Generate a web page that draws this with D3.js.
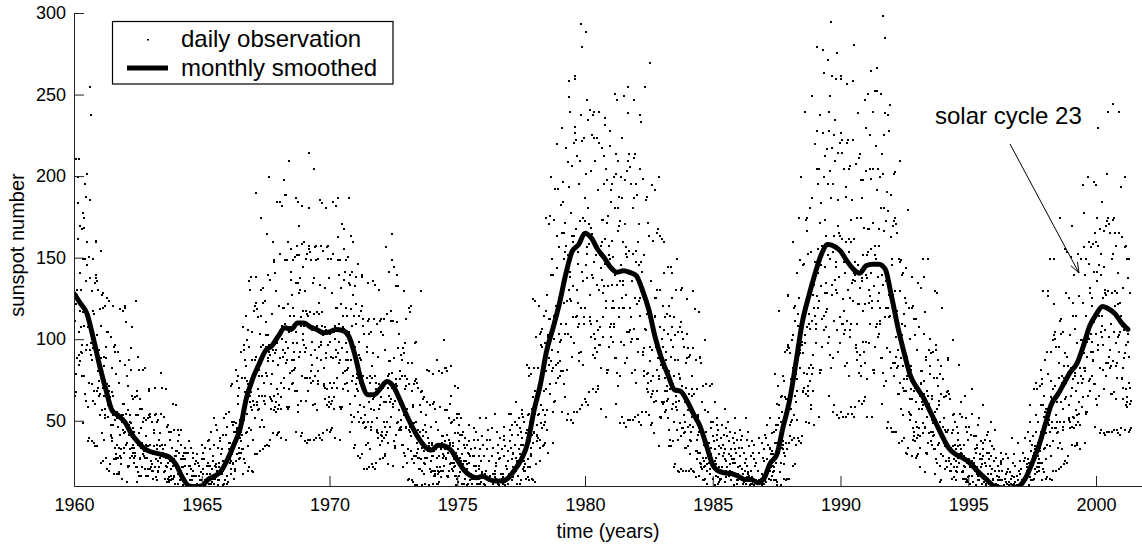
<!DOCTYPE html>
<html>
<head>
<meta charset="utf-8">
<script src="https://cdn.jsdelivr.net/npm/d3@7"></script>
<style>
  html, body { margin: 0; padding: 0; background: #fff; }
  svg { display: block; font-family: "Liberation Sans", Arial, Helvetica, sans-serif; }
</style>
</head>
<body>
<svg id="chart" width="1142" height="545"></svg>
<script>
// Daily sunspot numbers: one row per year, 96 readings per year (about every 3.8 days)
const daily1960s = [
  [66,112,68,122,211,79,131,128,89,126,184,200,162,211,91,85,105,170,118,141,87,131,108,93, 97,168,92,78,150,178,117,49,78,175,169,109,67,196,150,63,136,188,94,202,160,97,146,115, 59,38,108,151,74,40,186,138,94,255,98,91,103,238,73,88,38,130,150,63,118,95,37,116, 69,135,101,61,35,138,160,161,140,103,69,136,35,71,81,131,66,94,75,89,67,54,54,119],
  [25,89,109,155,128,57,43,71,129,26,120,90,84,39,66,54,121,52,58,28,96,89,73,105, 21,126,53,105,60,62,72,20,124,69,65,24,63,102,42,41,48,38,83,40,68,54,66,121, 48,18,96,27,34,97,51,93,28,30,27,79,52,56,18,36,93,47,28,18,34,74,19,29, 119,42,87,52,33,28,24,15,50,54,54,118,61,45,43,61,31,34,120,44,85,121,55,48],
  [111,36,13,37,78,23,72,57,22,42,23,48,88,28,54,50,33,49,82,95,66,108,34,29, 31,64,36,46,25,44,34,28,31,65,29,22,54,124,39,13,22,69,66,36,19,90,54,17, 43,82,27,58,64,28,46,34,17,9,37,58,22,10,82,50,30,52,32,29,34,83,21,28, 8,41,51,17,36,28,7,35,21,52,35,17,8,54,69,70,55,36,21,53,8,22,26,50],
  [20,32,24,30,20,15,15,43,8,35,45,71,54,22,16,27,55,9,50,36,33,14,26,20, 51,19,22,10,39,35,28,43,9,80,25,55,29,30,36,8,71,33,31,10,30,53,19,19, 20,15,36,15,29,23,28,70,22,9,47,13,15,48,25,44,14,16,13,39,26,27,9,17, 44,21,14,9,15,34,10,15,61,23,45,27,17,16,12,7,25,29,29,60,32,23,21,32],
  [10,12,38,18,45,31,21,18,42,14,0,14,45,5,36,27,5,17,5,22,29,11,27,22, 9,14,31,34,23,27,10,7,9,31,12,18,7,18,12,11,8,31,10,7,23,38,14,0, 5,23,21,9,3,34,17,3,14,28,7,31,20,7,17,11,3,0,11,24,5,0,26,17, 9,30,10,12,11,25,5,7,0,17,23,3,14,8,0,14,5,19,14,5,0,27,36,21],
  [31,18,7,27,0,9,12,34,7,14,10,13,7,4,4,23,0,18,23,38,25,7,4,12, 39,0,33,23,18,5,12,8,44,8,13,0,21,26,15,29,0,52,12,36,15,16,23,0, 48,22,24,0,20,45,10,11,14,5,34,9,22,14,25,40,18,0,38,5,10,30,18,33, 9,6,11,42,20,26,0,12,52,24,8,0,14,42,0,10,55,17,47,26,12,13,5,0],
  [29,33,33,56,37,27,25,37,18,21,72,26,50,73,34,30,48,24,8,25,50,15,44,38, 20,39,21,44,82,26,49,46,30,45,75,78,61,66,31,27,34,71,40,51,28,49,38,31, 44,93,42,33,77,108,56,18,33,97,94,51,27,88,77,25,68,115,43,84,100,44,75,55, 35,20,73,106,46,22,136,96,62,131,66,59,68,139,45,57,20,88,105,39,79,63,19,77],
  [60,118,88,52,30,121,139,190,123,90,60,119,30,62,70,114,57,82,66,78,58,47,47,104, 32,96,115,175,131,66,51,78,132,33,123,97,91,47,74,63,124,61,66,35,103,96,80,111, 36,165,78,140,87,89,103,35,200,97,93,39,91,137,65,64,73,58,116,63,96,79,94,160, 87,43,148,57,66,149,92,141,59,62,56,130,94,98,42,70,185,85,58,43,67,121,44,60],
  [185,89,153,105,74,65,58,40,101,108,109,182,120,94,90,120,71,77,198,92,149,189,110,99, 189,86,39,88,149,59,160,122,58,95,59,105,210,70,115,108,80,107,156,142,137,128,81,73, 88,149,98,120,74,115,93,82,88,151,83,69,135,187,105,44,69,158,152,98,60,185,135,56, 129,170,90,152,131,93,138,109,63,41,114,159,78,43,182,145,100,118,104,97,109,160,77,93],
  [38,130,150,63,118,95,37,116,77,153,115,69,39,156,181,215,158,117,77,154,39,81,91,149, 74,106,85,99,75,60,60,135,39,116,138,205,157,78,61,94,158,40,149,117,109,57,89,75, 150,73,81,42,123,116,96,134,40,186,88,158,97,99,117,39,184,109,105,43,103,155,73,72, 83,64,132,71,108,89,106,181,92,45,157,60,70,158,97,150,62,65,59,138,99,104,44,74]
];
const daily1970s = [
  [150,90,61,45,71,129,46,63,185,89,153,105,74,65,58,40,101,108,109,182,120,94,90,120, 71,77,187,92,149,163,110,99,140,86,39,88,149,59,132,122,58,95,59,105,171,70,115,108, 80,107,156,168,137,142,81,73,88,149,98,120,74,115,93,82,88,151,83,69,135,187,105,44, 61,140,134,88,54,164,119,50,109,142,75,160,128,78,115,91,53,34,96,133,66,36,110,122],
  [73,139,77,70,79,147,56,69,29,99,115,50,91,74,28,89,60,118,88,52,30,121,139,140, 113,78,49,109,21,50,59,104,46,71,54,67,47,36,36,93,21,77,96,135,112,50,37,62, 113,22,104,78,74,33,58,47,105,45,50,24,84,77,64,92,22,136,57,113,65,67,78,21, 134,74,70,25,68,110,45,44,52,40,90,43,73,58,71,131,60,27,112,36,42,113,65,105],
  [41,44,38,103,71,74,28,50,113,62,40,29,47,94,30,42,157,62,116,75,50,44,37,24, 71,78,79,142,87,66,62,87,47,53,118,64,112,149,80,71,165,59,23,61,112,38,145,89, 34,63,35,70,133,42,76,73,49,72,111,140,95,133,50,45,57,104,66,81,46,76,61,51, 47,91,45,36,78,88,59,22,36,95,92,54,31,130,78,29,70,98,46,113,72,47,76,58],
  [25,14,54,86,33,15,120,73,45,117,47,44,51,121,32,41,14,69,86,27,60,46,13,59, 29,73,49,25,11,75,98,99,76,50,29,74,11,31,37,71,28,45,33,41,28,21,21,60, 10,44,56,130,68,27,20,34,69,11,64,45,41,18,32,25,65,24,28,12,48,44,35,54, 10,82,28,62,32,33,40,9,81,37,35,11,34,60,21,21,26,19,47,20,37,29,36,79],
  [29,12,61,17,20,62,32,58,18,20,17,50,33,35,12,22,88,28,18,12,20,45,13,19, 81,29,59,35,22,20,16,10,33,37,37,80,41,30,28,41,20,23,100,29,57,83,38,33, 83,27,9,28,57,17,81,42,16,31,17,35,52,20,39,37,24,36,61,84,49,66,25,21, 25,50,29,37,20,35,27,22,25,51,23,17,43,72,31,11,17,55,52,29,15,71,43,13],
  [33,48,17,38,55,19,42,28,7,0,26,52,12,0,30,42,22,44,21,24,26,36,12,15, 0,34,40,5,26,18,0,24,11,36,21,12,0,31,48,25,38,30,10,29,0,14,18,33, 8,18,12,15,9,5,6,29,0,23,29,46,39,7,4,16,34,0,44,23,20,5,12,10, 39,8,12,0,23,21,15,29,0,52,12,33,16,13,26,0,41,18,19,0,17,36,8,10],
  [12,5,29,8,18,11,20,52,15,0,39,5,8,33,15,45,5,6,4,26,14,17,0,9, 39,15,5,0,8,29,0,5,46,12,34,18,8,5,6,0,18,20,16,55,23,15,13,25, 7,8,44,12,31,36,14,11,27,9,0,9,28,4,40,18,4,13,4,15,33,7,18,16, 12,18,39,47,29,41,11,8,13,35,15,23,8,21,15,10,14,32,12,8,26,55,18,0],
  [10,45,38,18,5,55,34,5,27,42,14,48,30,16,31,22,5,0,20,36,10,0,50,28, 22,62,20,25,26,48,12,17,0,42,52,7,33,23,0,30,12,46,36,14,0,44,57,40, 55,36,21,53,8,22,26,50,20,32,24,30,20,15,15,43,8,35,45,85,54,22,16,27, 83,14,78,55,50,22,38,30,79,29,34,15,58,54,42,65,14,125,37,83,43,44,55,13],
  [124,69,65,24,63,102,42,41,48,38,83,40,68,54,66,121,55,26,104,34,39,105,60,97, 49,96,46,107,78,80,35,57,115,69,48,36,54,98,37,50,175,70,118,81,57,128,45,31, 95,102,103,171,113,89,85,113,67,73,176,87,140,200,104,94,150,81,37,83,140,56,174,115, 62,101,63,111,193,74,121,114,85,113,164,220,144,193,86,77,93,157,104,126,78,121,99,87],
  [110,183,100,81,166,230,128,56,81,197,185,123,73,150,166,65,154,172,104,218,140,110,158,124, 82,51,152,209,104,55,259,194,131,249,139,125,142,240,102,124,51,178,207,90,164,133,49,160, 114,221,164,98,56,227,260,262,231,168,114,223,56,115,131,213,108,154,123,147,110,92,87,196, 58,173,210,294,238,120,93,142,280,60,222,175,166,85,136,114,224,110,120,64,187,173,146,202]
];
const daily1980s = [
  [62,289,138,247,153,157,181,60,235,171,163,68,159,241,114,112,128,102,204,110,169,140,165,226, 138,70,238,91,104,240,148,224,95,101,89,210,152,156,68,112,224,134,93,70,106,192,72,97, 240,131,221,152,108,97,83,58,144,158,160,218,174,137,129,174,102,114,196,133,213,232,162,147, 236,120,53,124,205,82,198,172,80,133,82,146,176,96,158,152,108,150,219,228,192,185,110,102],
  [120,196,134,161,99,151,124,108,120,200,110,89,181,251,140,61,89,214,202,134,80,247,181,72, 167,210,114,188,170,120,173,136,78,49,146,200,99,53,224,187,126,160,134,120,136,250,97,120, 49,171,198,86,157,128,47,153,105,204,151,89,51,210,239,255,214,155,105,206,51,106,120,196, 99,142,114,136,101,80,80,181,51,153,187,247,212,107,82,126,214,53,196,155,148,74,122,101],
  [189,93,101,54,160,146,124,171,50,238,115,205,126,130,148,48,234,142,134,56,130,199,93,91, 95,78,152,81,128,107,124,255,106,56,186,70,79,188,116,172,74,80,68,164,120,120,54,87, 270,96,65,48,75,136,49,67,195,94,161,111,78,69,62,43,107,114,115,192,126,100,96,126, 63,69,166,82,131,168,98,89,200,76,35,78,131,53,164,108,52,85,53,93,162,62,101,96],
  [61,83,121,160,106,141,62,56,69,114,77,93,57,88,72,63,69,116,64,52,104,145,81,35, 45,121,115,70,39,145,100,35,90,126,58,141,108,61,96,73,38,22,78,114,50,24,88,103, 62,131,66,59,68,150,45,57,20,88,105,39,79,63,19,77,49,108,76,41,21,111,131,132, 105,72,46,101,20,46,54,96,43,66,50,62,44,34,34,86,20,71,89,125,104,47,35,57],
  [95,20,90,67,61,30,48,39,91,38,44,21,70,66,53,78,20,130,47,95,54,55,67,19, 119,54,52,16,51,88,32,32,39,27,70,31,54,42,53,117,44,17,89,25,31,90,47,86, 22,24,21,62,41,44,14,28,72,36,22,14,26,57,15,23,100,35,73,44,28,24,20,12, 29,33,33,56,37,27,25,37,18,21,72,26,50,46,34,30,73,24,8,25,50,15,41,38],
  [7,22,9,26,62,11,33,28,17,24,52,48,42,39,16,12,19,45,22,30,13,35,20,15, 14,40,15,10,34,48,22,0,10,36,29,18,5,42,31,5,27,58,13,33,46,16,26,20, 5,0,22,41,10,0,50,30,18,38,17,20,24,44,10,14,0,29,33,5,27,19,0,25, 10,40,27,11,0,37,52,33,43,25,9,31,0,14,18,39,12,22,14,18,8,5,6,34],
  [0,23,29,45,39,8,5,15,34,0,41,21,18,5,12,9,31,7,13,0,25,20,15,27, 0,52,12,39,15,16,23,0,44,18,19,0,17,35,8,9,11,5,29,7,20,12,16,38, 12,0,31,4,8,27,11,36,5,4,3,23,13,14,0,6,25,10,4,0,9,20,0,4, 40,9,31,14,7,4,4,0,14,15,13,37,18,12,11,17,7,8,28,12,26,33,14,10],
  [42,14,0,13,40,5,48,27,6,18,5,22,36,10,25,22,15,20,33,52,34,30,14,10, 22,43,25,32,17,30,23,19,22,44,20,14,37,79,27,9,14,48,45,25,13,61,37,11, 48,72,30,60,118,31,52,38,19,10,41,65,25,11,50,56,34,66,36,33,38,78,24,31, 15,75,93,29,65,50,14,64,37,94,64,33,15,96,127,128,97,65,37,95,15,41,48,92],
  [50,76,58,71,51,39,39,100,23,83,103,160,120,54,40,66,121,24,112,84,79,36,62,51, 141,69,76,40,116,109,91,126,38,175,83,149,92,94,110,37,200,103,99,41,97,146,69,68, 92,71,147,80,120,98,118,240,103,50,174,67,79,175,108,167,69,72,66,153,110,116,49,83, 181,107,75,58,85,154,60,79,250,112,187,128,91,83,69,48,120,134,136,220,148,115,107,148],
  [98,110,228,127,205,280,156,141,196,120,53,124,205,82,238,172,80,133,82,146,184,96,158,152, 113,156,227,278,200,264,115,106,129,213,145,174,108,164,135,117,129,217,119,98,196,272,152,66, 102,240,228,150,91,250,204,83,187,295,128,218,262,134,196,154,89,56,164,226,112,60,235,210, 137,260,145,131,148,276,106,129,54,186,215,93,170,139,52,166,114,221,164,98,56,227,260,262]
];
const daily1990s = [
  [223,162,110,215,53,110,125,205,104,148,118,141,106,84,84,188,53,160,194,257,221,112,86,131, 223,55,205,162,154,78,126,106,207,102,110,59,174,160,135,186,55,259,124,223,137,141,162,53, 281,148,140,59,136,208,97,95,110,88,175,93,146,122,142,239,122,63,212,80,91,214,132,198, 84,175,78,187,136,138,61,99,198,118,152,63,93,169,65,86,247,122,204,140,99,230,76,53],
  [138,152,154,251,168,131,123,168,98,110,226,127,205,265,156,141,199,120,53,124,205,82,240,172, 80,133,82,146,253,96,158,152,108,150,219,267,192,253,110,102,124,205,139,168,104,158,129,112, 120,200,110,89,181,251,140,61,89,214,202,134,80,299,181,72,167,226,114,239,285,120,173,136, 75,46,140,191,95,50,238,179,120,228,128,114,130,244,93,115,46,163,189,83,150,122,44,146],
  [86,170,128,78,44,173,202,203,175,130,86,171,44,90,102,166,83,118,94,110,84,67,67,150, 37,109,130,210,148,74,58,89,149,38,140,110,103,54,84,71,141,69,76,40,116,109,91,126, 31,144,69,123,76,78,90,30,180,85,81,34,79,120,56,55,64,51,101,54,84,70,82,139, 64,29,120,39,46,121,69,113,41,44,38,103,71,74,28,50,113,62,40,29,47,94,30,42],
  [135,58,108,70,46,41,34,22,66,73,74,132,81,62,58,81,43,49,150,60,104,139,75,67, 117,46,19,47,90,31,88,69,30,53,31,59,150,37,66,61,43,60,94,101,79,84,44,38, 44,92,51,66,36,64,49,41,44,93,42,33,77,130,56,18,33,97,94,51,27,129,77,25, 58,88,36,72,60,37,63,47,23,13,50,79,30,14,84,67,41,120,43,40,47,76,29,37],
  [10,52,65,21,45,35,9,44,26,66,44,22,10,68,88,89,69,45,26,67,10,28,33,64, 20,32,24,34,20,15,15,43,8,35,45,100,54,22,16,27,55,9,50,36,33,14,26,20, 47,19,22,10,39,35,28,43,9,85,25,55,29,30,36,8,62,33,31,10,30,53,19,19, 20,15,36,15,29,23,28,66,22,9,47,13,15,52,25,44,14,16,13,39,26,27,9,17],
  [47,22,7,0,12,42,0,7,70,17,55,26,13,8,6,0,24,28,25,41,33,20,23,31, 10,11,41,18,36,34,22,17,48,14,0,14,52,5,30,27,5,19,5,22,38,9,27,24, 12,18,33,60,29,37,13,8,10,39,15,25,8,23,15,11,12,42,14,8,31,44,18,0, 7,31,27,12,4,38,23,4,18,29,9,50,35,10,21,14,4,0,15,33,7,0,26,20],
  [9,45,10,12,11,28,5,7,0,17,23,3,14,11,0,16,5,20,14,5,0,26,31,24, 25,14,5,20,0,7,9,27,5,11,7,10,5,3,3,15,0,13,18,30,19,5,3,12, 21,0,28,13,11,3,7,5,19,5,7,0,15,12,10,17,0,40,7,25,9,11,16,0, 30,12,10,0,13,23,5,5,7,3,17,5,11,7,14,37,10,0,20,3,5,26,9,18],
  [4,5,3,21,11,14,0,7,31,13,4,0,7,26,0,4,40,9,28,15,8,4,4,0, 20,22,24,44,27,17,19,25,10,11,38,16,60,50,23,21,32,14,0,14,36,5,41,29, 14,28,15,31,70,18,35,33,21,32,54,74,44,70,22,19,25,50,29,37,20,35,27,22, 34,72,32,25,60,82,44,14,25,76,73,40,21,130,60,19,53,66,33,88,56,34,58,43],
  [27,15,58,93,36,16,130,79,49,127,51,48,55,150,35,44,15,75,93,29,65,50,14,64, 46,100,70,38,20,103,150,122,105,72,46,101,20,46,54,96,43,66,50,62,44,34,34,86, 21,77,96,175,112,50,37,62,113,22,104,78,74,33,58,47,105,45,50,24,84,77,64,92, 26,156,65,129,74,76,90,25,154,84,80,29,78,126,52,51,60,46,103,50,83,66,81,151],
  [71,36,170,47,53,123,76,115,140,52,46,107,78,80,35,57,115,69,48,36,54,98,37,50, 153,74,127,87,62,55,48,33,83,90,91,150,100,78,74,100,59,65,195,76,123,157,92,83, 178,81,37,83,140,56,150,115,55,90,56,99,200,66,108,102,75,101,147,160,129,132,76,69, 93,157,104,126,78,121,99,87,93,159,88,73,142,197,111,47,73,166,160,104,64,195,142,60]
];
const daily2000s = [
  [136,175,94,158,230,97,146,115,66,43,120,168,83,45,140,153,105,185,109,102,115,126,82,97, 43,145,167,70,131,106,42,129,86,170,128,78,44,173,202,240,175,130,86,171,44,90,102,166, 83,118,94,110,84,67,67,150,44,129,153,245,174,87,68,105,175,45,166,130,121,64,98,84, 158,77,86,45,129,122,102,141,43,240,93,166,103,105,123,42,194,115,111,46,109,163,77,76],
  [83,64,132,71,108,89,106,200,92,45,157,60,70,158,97,150,62,65,59,138,99,104,44,74, 150,90,61,45,71,129,46,63]
];
const dailyBlocks = [[1960, daily1960s], [1970, daily1970s], [1980, daily1980s], [1990, daily1990s], [2000, daily2000s]];
const readingsPerYear = 96;

// Monthly smoothed sunspot number, sampled every quarter year from 1960.0
const smoothedStart = 1960;
const smoothedStep = 0.25;
const smoothed = [
  128,122,116,101,  84,69,56,53,  49,42,37,33,  31,30,29,27.5,  23,15,10,9.5,
  10,14,16,19,  26,35,45,64,  76,85,93,96,  102,107,106,110,  110,107.5,106,104,
  104.5,106,105.5,102,  90,74,66,66,  70,74,71,63,  54,46,39,34,  32,35,34.5,32,
  26,20,16.5,15,  16,14,13,13,  15,20,26,36,  56,72,93,107,  122,140,154,158,
  165,162,155,150,  144,141,142,141,  139,130,118,101,  88,78,69,68,  62,54,46.7,35,
  23,19,18,17.5,  16,14,14,12,  14.5,24,29,46,  62,85,110,126,  140,152,158,157,
  154,148,143,140.5,  145,146,146,143,  126,107,91,77,  70,64,56,48,  40,33,29.5,27.5,
  25,21,17,13.5,  10,9,8.5,9,  10,15,24,34,  47,60,66,73,  80,85,95.6,108,
  115,120,118.5,115.5,  110,106
];

const xTicks = [1960, 1965, 1970, 1975, 1980, 1985, 1990, 1995, 2000];
const yTicks = [50, 100, 150, 200, 250, 300];

const svg = d3.select("#chart");
const plotLeft = 74, plotRight = 1142, plotTop = 13, plotBottom = 486;

const x = d3.scaleLinear().domain([1960, 2001.8]).range([plotLeft, plotRight]);
const y = d3.scaleLinear().domain([10, 300]).range([plotBottom, plotTop]);

// Flatten the daily readings into (time, value) pairs
const dailyPoints = [];
dailyBlocks.forEach(([startYear, years]) => {
  years.forEach((row, k) => {
    row.forEach((v, i) => {
      dailyPoints.push({ t: startYear + k + (i + 0.5) / readingsPerYear, v });
    });
  });
});
const smoothPoints = smoothed.map((v, i) => ({ t: smoothedStart + i * smoothedStep, v }));

svg.append("defs").append("clipPath").attr("id", "plotArea")
  .append("rect")
  .attr("x", plotLeft + 0.5).attr("y", plotTop)
  .attr("width", plotRight - plotLeft).attr("height", plotBottom - plotTop + 0.5);

const plot = svg.append("g").attr("clip-path", "url(#plotArea)");

// daily observations as tiny dots
plot.append("g")
  .selectAll("rect")
  .data(dailyPoints)
  .join("rect")
  .attr("x", d => Math.round(x(d.t)))
  .attr("y", d => Math.round(y(d.v)))
  .attr("width", 2)
  .attr("height", 2)
  .attr("fill", "#000");

// monthly smoothed curve
plot.append("path")
  .datum(smoothPoints)
  .attr("fill", "none")
  .attr("stroke", "#000")
  .attr("stroke-width", 5)
  .attr("stroke-linejoin", "round")
  .attr("stroke-linecap", "round")
  .attr("d", d3.line().x(d => x(d.t)).y(d => y(d.v)).curve(d3.curveMonotoneX));

// axes with inward ticks
const xAxis = d3.axisBottom(x).tickValues(xTicks).tickFormat(d3.format("d"))
  .tickSizeInner(-10).tickSizeOuter(0).tickPadding(12);
const yAxis = d3.axisLeft(y).tickValues(yTicks).tickFormat(d3.format("d"))
  .tickSizeInner(-10).tickSizeOuter(0).tickPadding(8);

const gx = svg.append("g").attr("transform", `translate(0,${plotBottom})`).call(xAxis);
const gy = svg.append("g").attr("transform", `translate(${plotLeft},0)`).call(yAxis);
[gx, gy].forEach(g => {
  g.attr("font-family", null).attr("font-size", null);
  g.select(".domain").attr("stroke", "#222").attr("stroke-width", 1);
  g.selectAll(".tick line").attr("stroke", "#222").attr("stroke-width", 1);
  g.selectAll(".tick text").attr("fill", "#000").style("font-size", "18px");
});

// axis titles
svg.append("text")
  .attr("x", (plotLeft + plotRight) / 2).attr("y", 538)
  .attr("text-anchor", "middle")
  .style("font-size", "19.5px")
  .text("time (years)");

svg.append("text")
  .attr("transform", "translate(24,245) rotate(-90)")
  .attr("text-anchor", "middle")
  .style("font-size", "20px")
  .text("sunspot number");

// legend
const legend = svg.append("g");
legend.append("rect")
  .attr("x", 112.5).attr("y", 21.5).attr("width", 280.5).attr("height", 62.5)
  .attr("fill", "#fff").attr("stroke", "#000").attr("stroke-width", 1.2);
legend.append("rect")
  .attr("x", 147).attr("y", 39).attr("width", 2).attr("height", 1.5).attr("fill", "#000");
legend.append("line")
  .attr("x1", 127).attr("x2", 168).attr("y1", 68).attr("y2", 68)
  .attr("stroke", "#000").attr("stroke-width", 5);
legend.append("text").attr("x", 181).attr("y", 47).style("font-size", "24px").text("daily observation");
legend.append("text").attr("x", 181).attr("y", 75.5).style("font-size", "24px").text("monthly smoothed");

// annotation with arrow
const a0 = [1010, 144], a1 = [1079, 273];
svg.append("text").attr("x", 935).attr("y", 124).style("font-size", "24px").text("solar cycle 23");
svg.append("line")
  .attr("x1", a0[0]).attr("y1", a0[1]).attr("x2", a1[0]).attr("y2", a1[1])
  .attr("stroke", "#000").attr("stroke-width", 1);
const ang = Math.atan2(a1[1] - a0[1], a1[0] - a0[0]);
[-0.35, 0.35].forEach(da => {
  svg.append("line")
    .attr("x1", a1[0]).attr("y1", a1[1])
    .attr("x2", a1[0] - 11 * Math.cos(ang + da))
    .attr("y2", a1[1] - 11 * Math.sin(ang + da))
    .attr("stroke", "#000").attr("stroke-width", 1);
});
</script>
</body>
</html>
